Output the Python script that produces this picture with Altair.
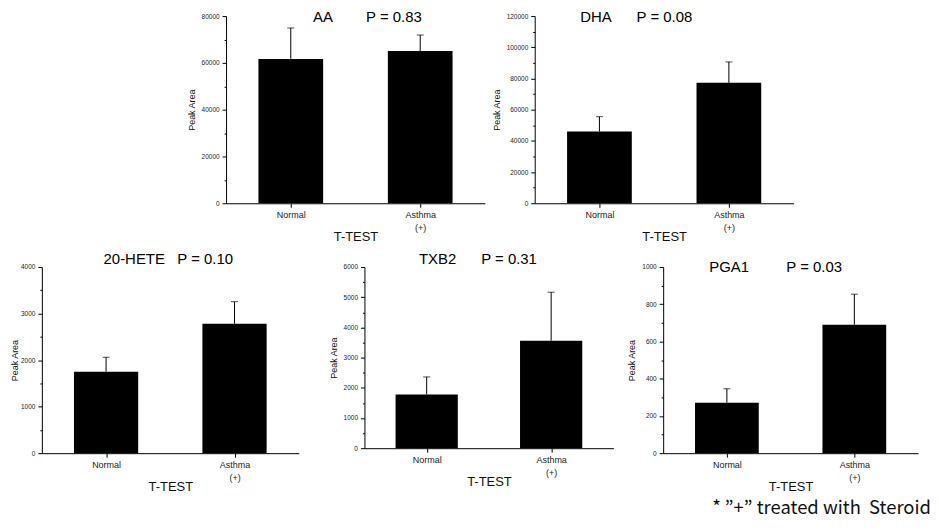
import altair as alt
import pandas as pd

# ---- data ----
groups = ["Normal", "Asthma (+)"]

aa_mean = [61700, 65100]
aa_top = [74900, 71900]

dha_mean = [46000, 77200]
dha_top = [55500, 90600]

hete_mean = [1750, 2780]
hete_top = [2060, 3255]

txb2_mean = [1780, 3560]
txb2_top = [2360, 5165]

pga1_mean = [271, 690]
pga1_top = [346, 854]

FONT = "Liberation Sans"


def panel(name, pval, spaces, means, tops, ymax, step, w, h, dx, dy, tpad):
    df = pd.DataFrame({"group": groups, "mean": means, "top": tops})
    n = int(round(ymax / step))
    major = [i * step for i in range(0, n + 1)]
    minor = [i * step + step // 2 for i in range(0, n)]
    x = alt.X(
        "group:N",
        sort=groups,
        scale=alt.Scale(type="point", padding=0.5, domain=groups),
        axis=alt.Axis(
            title="T-TEST",
            labelExpr="split(datum.label, ' ')",
            labelAngle=0,
            labelFontSize=9,
            labelLineHeight=13,
            labelPadding=3,
            tickSize=4,
            titleFontSize=13,
            titleFontWeight="normal",
            titleBaseline="middle",
            titleY=33,
        ),
    )
    major_axis = alt.Axis(
        title="Peak Area",
        orient="left",
        values=major,
        format="d",
        labelOverlap=False,
        labelFontSize=6.5,
        labelPadding=3,
        tickSize=4,
        titleFontSize=9,
        titleFontWeight="normal",
        titlePadding=tpad,
        grid=False,
    )
    minor_axis = alt.Axis(
        title=None,
        orient="left",
        values=minor,
        labels=False,
        domain=False,
        tickSize=2,
        grid=False,
    )
    yscale = alt.Scale(domain=[0, ymax], nice=False, zero=True)
    base = alt.Chart(df)
    bars = base.mark_bar(size=w / 4, color="black").encode(
        x=x, y=alt.Y("mean:Q", scale=yscale, axis=major_axis)
    )
    rule = base.mark_rule(color="black", strokeWidth=1).encode(
        x=x, y=alt.Y("mean:Q", scale=yscale, axis=minor_axis), y2="top:Q"
    )
    cap = base.mark_tick(color="black", size=7, thickness=1, orient="horizontal").encode(
        x=x, y=alt.Y("top:Q", scale=yscale, axis=None)
    )
    title = name + "\u00a0" * spaces + pval
    return (
        alt.layer(rule, bars, cap)
        .resolve_axis(y="independent")
        .properties(
            width=w,
            height=h,
            title=alt.TitleParams(
                title,
                font=FONT,
                fontSize=15,
                fontWeight="normal",
                anchor="middle",
                frame="group",
                baseline="alphabetic",
                offset=0,
                dx=dx,
                dy=dy,
            ),
        )
    )


def spacer(w, h):
    return (
        alt.Chart(pd.DataFrame({"a": [0]}))
        .mark_point(opacity=0)
        .encode(x=alt.value(0), y=alt.value(0))
        .properties(width=w, height=h)
    )


aa = panel("AA", "P = 0.83", 8, aa_mean, aa_top, 80000, 20000, 260, 188, 12, 24, 5)
dha = panel("DHA", "P = 0.08", 6, dha_mean, dha_top, 120000, 20000, 260, 188, -28, 24, 5)
hete = panel("20-HETE", "P = 0.10", 3, hete_mean, hete_top, 4000, 1000, 258, 187, -2, 15, 1)
txb2 = panel("TXB2", "P = 0.31", 6, txb2_mean, txb2_top, 6000, 1000, 250, 182, -11, 15, 5)
pga1 = panel("PGA1", "P = 0.03", 9, pga1_mean, pga1_top, 1000, 200, 256, 187, -15, 23, 5)

top_row = alt.hconcat(spacer(135, 188), aa, dha, spacing=50, bounds="flush")
bottom_row = alt.hconcat(
    alt.hconcat(hete, txb2, spacing=66, bounds="flush"),
    pga1,
    spacing=14,
)

chart = (
    alt.vconcat(top_row, bottom_row, spacing=9)
    .properties(
        padding={"left": 2, "top": 1, "right": 0, "bottom": 0},
        title=alt.TitleParams(
            "* \u201d+\u201d treated with\u00a0 Steroid",
            orient="bottom",
            anchor="end",
            font="Noto Sans CJK KR",
            fontSize=18.5,
            fontWeight="normal",
            color="#111111",
            offset=6,
            dx=13,
        ),
    )
    .configure(font=FONT, background="white")
    .configure_view(stroke=None)
    .configure_axis(
        domainColor="black",
        tickColor="black",
        labelColor="#222222",
        titleColor="#111111",
        labelFont=FONT,
        titleFont=FONT,
        grid=False,
    )
)

chart.save("out.html", embed_options={"renderer": "svg", "actions": False})
